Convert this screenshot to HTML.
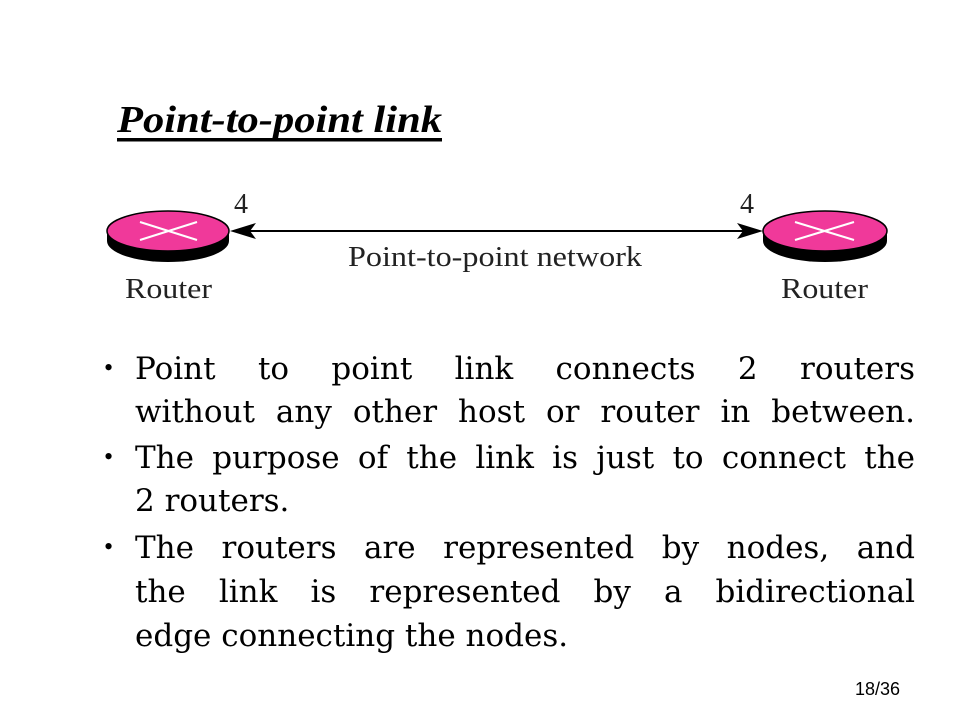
<!DOCTYPE html>
<html><head><meta charset="utf-8"><style>
body{margin:0;width:960px;height:720px;background:#fff;position:relative;overflow:hidden;font-family:"DejaVu Serif",serif;}
.l{position:absolute;left:135px;width:780px;font-size:31px;line-height:32px;white-space:nowrap;color:#000}
.j{text-align:justify;text-align-last:justify}
.b{position:absolute;left:104px;font-size:26px;line-height:32px;font-family:"Liberation Serif",serif}
</style></head><body>
<svg width="960" height="720" style="position:absolute;left:0;top:0">
<text x="117" y="132" font-family="Liberation Serif" font-weight="bold" font-style="italic" font-size="38" textLength="325" lengthAdjust="spacingAndGlyphs">Point-to-point link</text>
<rect x="117" y="138" width="325" height="3.5" fill="#000"/>
<path d="M107 231 v10 a61 21 0 0 0 122 0 v-10 z" fill="#000"/>
<ellipse cx="168" cy="231" rx="61" ry="20" fill="#f0399a" stroke="#000" stroke-width="1.5"/>
<line x1="140" y1="222" x2="197" y2="240" stroke="#fff" stroke-width="2"/>
<line x1="140" y1="240" x2="197" y2="222" stroke="#fff" stroke-width="2"/>
<path d="M763 231 v10 a62 21 0 0 0 124 0 v-10 z" fill="#000"/>
<ellipse cx="825" cy="231" rx="62" ry="20" fill="#f0399a" stroke="#000" stroke-width="1.5"/>
<line x1="795" y1="222" x2="854" y2="240" stroke="#fff" stroke-width="2"/>
<line x1="795" y1="240" x2="854" y2="222" stroke="#fff" stroke-width="2"/>
<line x1="240" y1="231" x2="752" y2="231" stroke="#000" stroke-width="2"/>
<path d="M230 231 L256 223 L250 231 L256 239 Z" fill="#000"/>
<path d="M763 231 L737 223 L743 231 L737 239 Z" fill="#000"/>
<g font-family="Liberation Serif" font-size="28" fill="#222">
<text x="234" y="213">4</text>
<text x="740" y="213">4</text>
<text x="348" y="266" textLength="294" lengthAdjust="spacingAndGlyphs">Point-to-point network</text>
<text x="125" y="298" textLength="87" lengthAdjust="spacingAndGlyphs">Router</text>
<text x="781" y="298" textLength="87" lengthAdjust="spacingAndGlyphs">Router</text>
</g>
<text x="855" y="695" font-family="Liberation Sans" font-size="18">18/36</text>
</svg>
<div class="b" style="top:352px">•</div>
<div class="l j" style="top:353px">Point to point link connects 2 routers</div>
<div class="l j" style="top:396px">without any other host or router in between.</div>
<div class="b" style="top:441px">•</div>
<div class="l j" style="top:442px">The purpose of the link is just to connect the</div>
<div class="l" style="top:485px">2 routers.</div>
<div class="b" style="top:531px">•</div>
<div class="l j" style="top:532px">The routers are represented by nodes, and</div>
<div class="l j" style="top:576px">the link is represented by a bidirectional</div>
<div class="l" style="top:620px">edge connecting the nodes.</div>
</body></html>
